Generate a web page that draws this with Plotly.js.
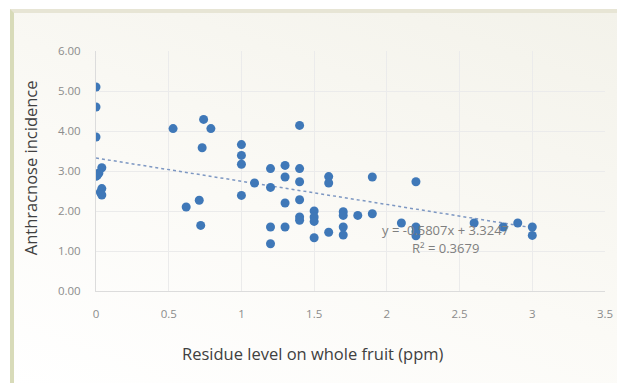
<!DOCTYPE html>
<html>
<head>
<meta charset="utf-8">
<script src="https://cdn.plot.ly/plotly-3.0.1.min.js"></script>
<style>
  html, body { margin: 0; padding: 0; background: #ffffff; }
  #frame { position: absolute; left: 10px; top: 9px; width: 603px; height: 374px;
    border-left: 4px solid #d8dbb9; border-top: 4px solid #e7e5d5;
    background: linear-gradient(20deg, #ffffff 0%, #fbfaf6 45%, #f3f2ea 100%); }
  #chart { position: absolute; left: 0; top: 0; width: 617px; height: 383px; }
</style>
</head>
<body>
<div id="frame"></div>
<div id="chart"></div>
<script>
// Residue level (ppm) and anthracnose incidence
const residue = [
  0, 0, 0, 0.04, 0.02, 0, 0.01, 0.04, 0.03, 0.04,
  0.53, 0.74, 0.79, 0.73, 0.62, 0.71, 0.72,
  1.0, 1.0, 1.0, 1.0, 1.09,
  1.2, 1.2, 1.2, 1.2,
  1.3, 1.3, 1.3, 1.3,
  1.4, 1.4, 1.4, 1.4, 1.4, 1.4,
  1.5, 1.5, 1.5, 1.5,
  1.6, 1.6, 1.6,
  1.7, 1.7, 1.7, 1.7,
  1.8, 1.9, 1.9,
  2.1, 2.2, 2.2, 2.2, 2.2,
  2.6, 2.8, 2.9, 3.0, 3.0
];
const incidence = [
  5.10, 4.60, 3.85, 3.08, 2.95, 2.87, 2.90, 2.56, 2.47, 2.40,
  4.06, 4.29, 4.06, 3.58, 2.10, 2.27, 1.64,
  3.66, 3.39, 3.17, 2.39, 2.70,
  3.06, 2.59, 1.60, 1.18,
  3.14, 2.85, 2.20, 1.60,
  4.14, 3.06, 2.73, 2.28, 1.85, 1.77,
  2.00, 1.85, 1.74, 1.33,
  2.86, 2.70, 1.47,
  1.98, 1.89, 1.60, 1.40,
  1.89, 2.85, 1.93,
  1.70, 2.73, 1.60, 1.48, 1.38,
  1.70, 1.60, 1.70, 1.60, 1.39
];
// Linear trend reported on the chart
const slope = -0.5807;
const intercept = 3.3247;
const trendX = [0, 3];
const trendY = trendX.map(x => slope * x + intercept);
const xTicks = [0, 0.5, 1, 1.5, 2, 2.5, 3, 3.5];
const xTickText = ["0", "0.5", "1", "1.5", "2", "2.5", "3", "3.5"];
const yTicks = [0, 1, 2, 3, 4, 5, 6];
const yTickText = ["0.00", "1.00", "2.00", "3.00", "4.00", "5.00", "6.00"];

const font = "Open Sans, Liberation Sans, sans-serif";

const data = [
  {
    x: trendX, y: trendY, type: "scatter", mode: "lines",
    line: { color: "#7d97c2", width: 1.5, dash: "dot" },
    hoverinfo: "skip", showlegend: false
  },
  {
    x: residue, y: incidence, type: "scatter", mode: "markers",
    marker: { color: "#3f78b8", size: 9, line: { width: 0 } },
    showlegend: false
  }
];

const plotL = 96, plotR = 605;
const layout = {
  width: 617, height: 383,
  margin: { l: plotL, r: 617 - plotR, t: 51, b: 92 },
  paper_bgcolor: "rgba(0,0,0,0)",
  plot_bgcolor: "rgba(0,0,0,0)",
  showlegend: false,
  font: { family: font, color: "#8c8c8c", size: 11 },
  xaxis: {
    range: [0, 3.5], tickvals: xTicks, ticktext: xTickText,
    showgrid: true, gridcolor: "#ebebeb", gridwidth: 1,
    zeroline: false, showline: true, linecolor: "#dcdcdc",
    ticks: "", ticklabelstandoff: 12, ticklabeloverflow: "allow",
    tickfont: { family: font, size: 11.5, color: "#8c8c8c" }
  },
  yaxis: {
    range: [0, 6], tickvals: yTicks, ticktext: yTickText,
    showgrid: true, gridcolor: "#ebebeb", gridwidth: 1,
    zeroline: false, showline: true, linecolor: "#dcdcdc",
    ticks: "", ticklabelstandoff: 12, ticklabeloverflow: "allow",
    tickfont: { family: font, size: 11.5, color: "#8c8c8c" }
  },
  annotations: [
    { text: "Residue level on whole fruit (ppm)", xref: "paper", yref: "paper",
      x: (313 - plotL) / (plotR - plotL), y: -(353 - 290.7) / 240, xanchor: "center", yanchor: "middle",
      showarrow: false, font: { family: font, size: 16.5, color: "#404040" } },
    { text: "Anthracnose incidence", xref: "paper", yref: "paper",
      x: -(plotL - 30) / (plotR - plotL), y: (290.7 - 168) / 240, xanchor: "center", yanchor: "middle",
      textangle: -90, showarrow: false, font: { family: font, size: 16.5, color: "#404040" } },
    { text: "y = -0.5807x + 3.3247", xref: "x", yref: "y", x: 2.4, y: 1.52,
      xanchor: "center", yanchor: "middle", showarrow: false,
      font: { family: font, size: 13, color: "#7f7f7f" } },
    { text: "R² = 0.3679", xref: "x", yref: "y", x: 2.4, y: 1.07,
      xanchor: "center", yanchor: "middle", showarrow: false,
      font: { family: font, size: 13, color: "#7f7f7f" } }
  ]
};

Plotly.newPlot("chart", data, layout, { displayModeBar: false, staticPlot: true });
</script>
</body>
</html>
